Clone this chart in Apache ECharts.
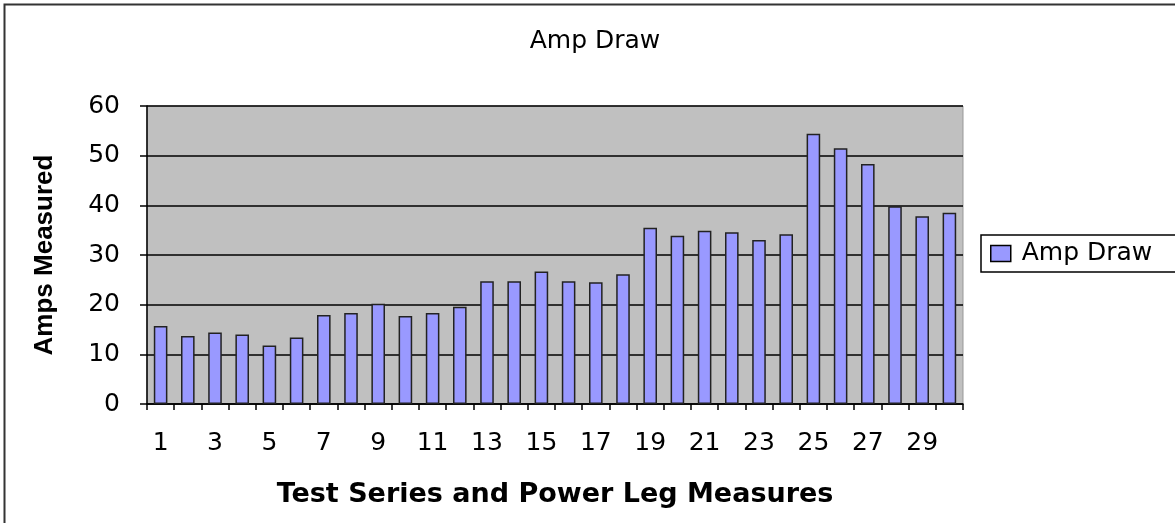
<!DOCTYPE html>
<html>
<head>
<meta charset="utf-8">
<script src="https://cdn.jsdelivr.net/npm/echarts@6/dist/echarts.min.js"></script>
<style>
  html, body { margin: 0; padding: 0; background: #fff; }
  #chart { width: 1175px; height: 523px; }
</style>
</head>
<body>
<div id="chart"></div>
<script>
// test numbers 1..30
const categories = ['1', '2', '3', '4', '5', '6', '7', '8', '9', '10',
  '11', '12', '13', '14', '15', '16', '17', '18', '19', '20',
  '21', '22', '23', '24', '25', '26', '27', '28', '29', '30'];
const ampDraw = [15.7, 13.7, 14.4, 14.0, 11.8, 13.4, 17.9, 18.3, 20.2, 17.7,
  18.3, 19.6, 24.7, 24.7, 26.7, 24.7, 24.5, 26.1, 35.5, 33.9,
  34.9, 34.6, 33.0, 34.2, 54.4, 51.5, 48.3, 39.8, 37.8, 38.5];
const yTicks = [0, 10, 20, 30, 40, 50, 60];

const font = '"DejaVu Sans", "Liberation Sans", Arial, sans-serif';
const narrowFont = '"Liberation Sans", Arial, sans-serif';

const chart = echarts.init(document.getElementById('chart'));
chart.setOption({
  animation: false,
  backgroundColor: '#fff',
  textStyle: { fontFamily: font },
  title: {
    text: 'Amp Draw',
    left: 595,
    textAlign: 'center',
    top: 29,
    padding: 0,
    textStyle: { fontFamily: font, fontSize: 25, fontWeight: 'normal', color: '#000' }
  },
  graphic: [
    {
      type: 'rect',
      shape: { x: 4.5, y: 4.5, width: 1185, height: 540 },
      style: { fill: null, stroke: '#333', lineWidth: 2 },
      silent: true
    }
  ],
  legend: {
    left: 981,
    top: 235,
    orient: 'vertical',
    padding: [6, 30, 6, 9],
    borderColor: '#000',
    borderWidth: 1.5,
    backgroundColor: '#fff',
    icon: 'rect',
    itemWidth: 20,
    itemHeight: 16,
    itemGap: 0,
    itemStyle: { borderColor: '#000', borderWidth: 1.5 },
    textStyle: { fontFamily: font, fontSize: 25, color: '#000', padding: [0, 0, 0, 6] },
    data: ['Amp Draw']
  },
  grid: {
    left: 147,
    right: 212,
    top: 106,
    bottom: 119,
    show: true,
    backgroundColor: '#c0c0c0',
    borderColor: '#999',
    borderWidth: 1
  },
  xAxis: {
    type: 'category',
    data: categories,
    name: 'Test Series and Power Leg Measures',
    nameLocation: 'middle',
    nameGap: 77,
    nameTextStyle: { fontFamily: font, fontSize: 27, fontWeight: 'bold', color: '#000' },
    axisLine: { lineStyle: { color: '#000', width: 1.5 } },
    axisTick: { show: true, alignWithLabel: false, interval: 0, length: 6, lineStyle: { color: '#000', width: 1.5 } },
    axisLabel: { interval: 1, fontFamily: font, fontSize: 25, color: '#000', margin: 27 }
  },
  yAxis: {
    type: 'value',
    min: yTicks[0],
    max: yTicks[yTicks.length - 1],
    interval: 10,
    name: 'Amps Measured',
    nameLocation: 'middle',
    nameGap: 89,
    nameRotate: 90,
    nameTextStyle: { fontFamily: narrowFont, fontSize: 26, fontWeight: 'bold', color: '#000' },
    axisLine: { show: true, lineStyle: { color: '#000', width: 1.5 } },
    axisTick: { show: true, length: 7, lineStyle: { color: '#000', width: 1.5 } },
    axisLabel: { fontFamily: font, fontSize: 25, color: '#000', margin: 27 },
    splitLine: { show: true, lineStyle: { color: '#000', width: 1.5 } }
  },
  series: [
    {
      name: 'Amp Draw',
      type: 'bar',
      data: ampDraw,
      barWidth: '50%',
      itemStyle: { color: '#9999ff', borderColor: '#222', borderWidth: 1.5 }
    }
  ]
});
</script>
</body>
</html>
